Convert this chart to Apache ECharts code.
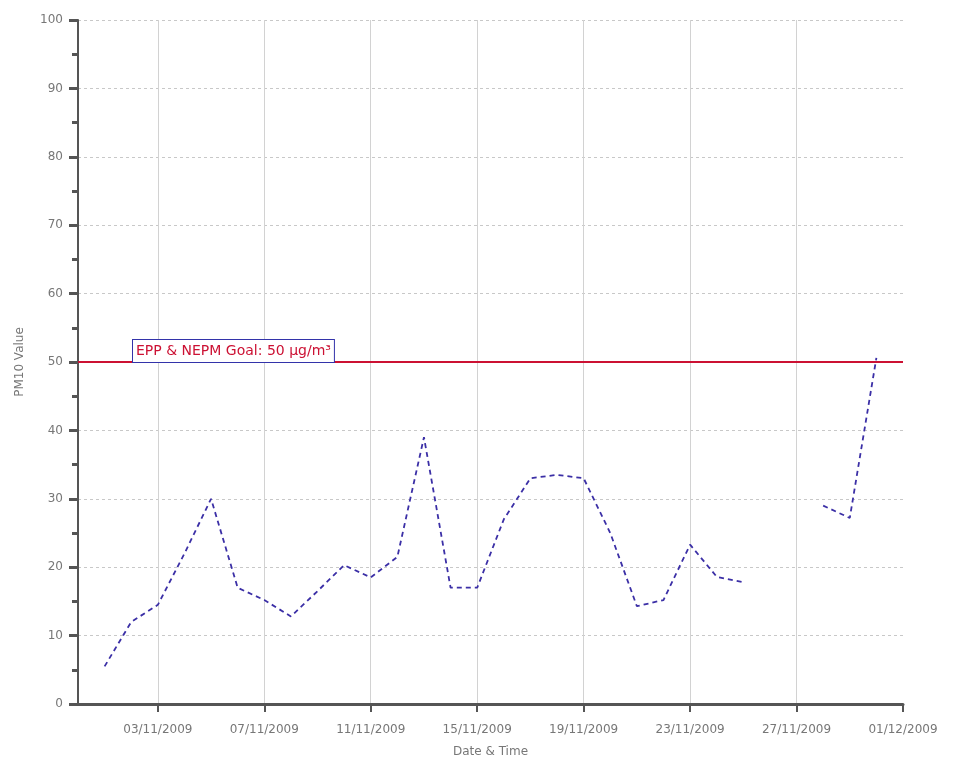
<!DOCTYPE html>
<html>
<head>
<meta charset="utf-8">
<script src="https://cdn.jsdelivr.net/npm/echarts@6/dist/echarts.min.js"></script>
<style>
html,body{margin:0;padding:0;background:#fff;}
#chart{width:953px;height:763px;}
</style>
</head>
<body>
<div id="chart"></div>
<script>
// ---- data ----
const dates = ['2009-11-01','2009-11-02','2009-11-03','2009-11-04','2009-11-05','2009-11-06','2009-11-07','2009-11-08','2009-11-09','2009-11-10',
  '2009-11-11','2009-11-12','2009-11-13','2009-11-14','2009-11-15','2009-11-16','2009-11-17','2009-11-18','2009-11-19','2009-11-20',
  '2009-11-21','2009-11-22','2009-11-23','2009-11-24','2009-11-25','2009-11-26','2009-11-27','2009-11-28','2009-11-29','2009-11-30'];
const pm10 = [5.5, 12, 14.5, 22, 30, 17, 15.2, 12.8, 16.5, 20.3,
  18.5, 21.5, 39, 17, 17, 27, 33, 33.5, 33, 25,
  14.3, 15.2, 23.3, 18.6, 17.8, null, null, 29, 27.2, 50.6];
const tickDates = ['2009-11-03','2009-11-07','2009-11-11','2009-11-15','2009-11-19','2009-11-23','2009-11-27','2009-12-01'];
const tickLabels = ['03/11/2009','07/11/2009','11/11/2009','15/11/2009','19/11/2009','23/11/2009','27/11/2009','01/12/2009'];
const axisStart = '2009-10-31';
const axisEnd = '2009-12-01';
const goalValue = 50;
const goalLabel = 'EPP & NEPM Goal: 50 µg/m³';
const yTitle = 'PM10 Value';
const xTitle = 'Date & Time';

// ---- helpers ----
const DAY = 86400000;
const t0 = Date.parse(axisStart + 'T00:00:00Z');
const dayOf = s => (Date.parse(s + 'T00:00:00Z') - t0) / DAY;
const tickPos = tickDates.map(dayOf);
const labelFor = v => {
  const i = tickPos.findIndex(p => Math.abs(p - v) < 1e-6);
  return i >= 0 ? tickLabels[i] : '';
};

const chart = echarts.init(document.getElementById('chart'), null, {renderer: 'canvas'});
const font = 'DejaVu Sans';
chart.setOption({
  animation: false,
  backgroundColor: '#ffffff',
  grid: {left: 78, right: 50, top: 20, bottom: 55, containLabel: false},
  xAxis: {
    type: 'value',
    min: dayOf(axisStart),
    max: dayOf(axisEnd),
    name: xTitle,
    nameLocation: 'middle',
    nameGap: 42,
    nameTextStyle: {color: '#777', fontSize: 12, fontFamily: font},
    axisLine: {show: true, onZero: false, lineStyle: {color: '#555', width: 3}},
    axisTick: {show: true, customValues: tickPos, length: 8, lineStyle: {color: '#555', width: 2}},
    axisLabel: {customValues: tickPos, formatter: labelFor, color: '#777', fontSize: 12, fontFamily: font, margin: 20},
    splitLine: {show: true, showMinLine: true, showMaxLine: false, lineStyle: {color: '#d2d2d2', width: 1, type: 'solid'}}
  },
  yAxis: {
    type: 'value',
    min: 0,
    max: 100,
    interval: 10,
    name: yTitle,
    nameLocation: 'middle',
    nameGap: 52,
    nameTextStyle: {color: '#777', fontSize: 12, fontFamily: font},
    axisLine: {show: true, lineStyle: {color: '#555', width: 2}},
    axisTick: {show: true, length: 9, lineStyle: {color: '#555', width: 3}},
    minorTick: {show: true, splitNumber: 2, length: 6, lineStyle: {color: '#555', width: 3}},
    axisLabel: {color: '#777', fontSize: 12, fontFamily: font, margin: 15},
    splitLine: {show: true, lineStyle: {color: '#c8c8c8', width: 1, type: [3, 3]}}
  },
  series: [{
    type: 'line',
    data: dates.map((d, i) => [dayOf(d), pm10[i]]),
    showSymbol: false,
    symbol: 'none',
    connectNulls: false,
    lineStyle: {color: '#3b2fa6', width: 1.8, type: [5, 4]},
    itemStyle: {color: '#3b2fa6'},
    markLine: {
      silent: true,
      symbol: ['none', 'none'],
      lineStyle: {color: '#cc1133', width: 2, type: 'solid'},
      label: {
        show: true,
        position: 'insideStartTop',
        distance: [55, 0],
        formatter: goalLabel,
        color: '#cc1133',
        fontSize: 14,
        fontFamily: font,
        borderColor: '#3333aa',
        borderWidth: 1,
        padding: [4, 3, 4, 3],
        backgroundColor: '#ffffff'
      },
      data: [{yAxis: goalValue}]
    }
  }]
});
</script>
</body>
</html>
